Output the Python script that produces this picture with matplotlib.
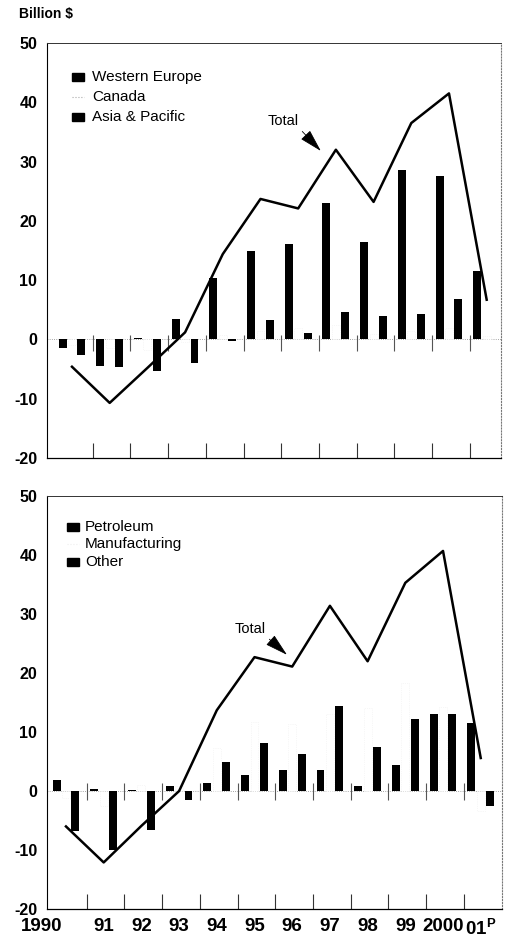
import matplotlib
matplotlib.use('Agg')
import matplotlib.pyplot as plt
from matplotlib.patches import Rectangle
import numpy as np

plt.rcParams['font.family'] = ['Liberation Sans', 'DejaVu Sans']
plt.rcParams['axes.unicode_minus'] = False
plt.rcParams['mathtext.fontset'] = 'custom'
plt.rcParams['mathtext.bf'] = 'Liberation Sans:bold'
plt.rcParams['mathtext.rm'] = 'Liberation Sans'

YEARS = ['1990', '91', '92', '93', '94', '95', '96', '97', '98', '99', '2000', r'01$^{\mathbf{P}}$']
YTICKS = [50, 40, 30, 20, 10, 0, -10, -20]

## Top panel: by region (billion $)
W_EUROPE = [-1.5, -4.5, 0.3, 3.5, 10.4, 14.9, 16.1, 23.0, 16.5, 28.6, 27.5, 11.6]
CANADA = [-1.0, -1.5, -1.8, -0.5, 0.8, 1.5, 2.0, 2.5, 1.0, 1.5, 2.0, 0.5]
ASIA_PAC = [-2.7, -4.6, -5.3, -3.9, -0.3, 3.2, 1.1, 4.6, 4.0, 4.3, 6.8, 0.0]
TOTAL_REGION = [-4.6, -10.7, -4.8, 1.2, 14.4, 23.7, 22.1, 32.0, 23.2, 36.5, 41.5, 6.7]

## Bottom panel: by industry (billion $)
PETROLEUM = [1.9, 0.4, 0.2, 0.8, 1.3, 2.7, 3.6, 3.6, 0.8, 4.5, 13.0, 11.5]
MANUFACT = [-1.2, -2.5, 1.0, 0.8, 7.3, 11.7, 11.3, 13.0, 14.0, 18.3, 14.3, -3.3]
OTHER = [-6.7, -10.0, -6.6, -1.6, 4.9, 8.1, 6.3, 14.4, 7.4, 12.2, 13.0, -2.6]
TOTAL_INDUSTRY = [-6.0, -12.1, -5.9, 0.0, 13.7, 22.7, 21.1, 31.4, 22.0, 35.3, 40.7, 5.6]

WIDTH = 0.21
OFFSET = 0.25
SOLID = dict(color='black', linewidth=0)
FAINT = dict(facecolor='white', edgecolor='#efefef', linestyle=':', linewidth=0.5)


def drawPanel(ax, series, styles, total, xlim, zt):
    x = np.arange(len(YEARS))
    ax.axhline(0, color='#888888', ls=':', lw=0.6, zorder=1)
    for k, (vals, sty) in enumerate(zip(series, styles)):
        ax.bar(x + (k - 1) * OFFSET, vals, WIDTH, zorder=2, **sty)
    ax.plot(x, total, color='black', lw=1.8, zorder=4)
    ## separators between years, bottom and across zero line
    bounds = x[:-1] + 0.55
    ax.set_xticks(bounds)
    ax.set_xticklabels([])
    ax.tick_params(axis='x', which='major', direction='in', length=11, width=0.8, color='#333333')
    ax.vlines(bounds, zt[0], zt[1], color='#555555', lw=0.8, zorder=3)
    ax.set_xlim(xlim)
    ax.set_ylim(-20, 50)
    ax.set_yticks(YTICKS)
    ax.set_yticklabels([str(v) for v in YTICKS], fontweight='bold', fontsize=11.5)
    ax.tick_params(axis='y', length=0, pad=7)
    ax.spines['left'].set_linewidth(0.8)
    ax.spines['bottom'].set_linewidth(0.9)
    ax.spines['top'].set_color('#333333')
    ax.spines['top'].set_linewidth(0.7)
    ax.spines['right'].set_color('#777777')
    ax.spines['right'].set_linestyle(':')
    ax.spines['right'].set_linewidth(0.8)


def drawLegend(ax, labels, kinds, x0, xt, ys):
    for lab, kind, y in zip(labels, kinds, ys):
        if kind == 'solid':
            ax.add_patch(Rectangle((x0, y - 0.0095), 0.026, 0.019, transform=ax.transAxes,
                                   color='black', zorder=5))
        else:
            ax.plot([x0, x0 + 0.026], [y, y], transform=ax.transAxes, color=kind, ls=':', lw=0.8)
        ax.text(xt, y, lab, transform=ax.transAxes, va='center', ha='left', fontsize=11)


fig = plt.figure(figsize=(5.09, 9.39), dpi=100)
ax1 = fig.add_axes([0.0923, 0.5122, 0.892, 0.442])
ax2 = fig.add_axes([0.0923, 0.0319, 0.894, 0.4398])

drawPanel(ax1, [W_EUROPE, CANADA, ASIA_PAC], [SOLID, FAINT, SOLID], TOTAL_REGION,
          (-0.663, 11.38), (-2.0, 0.8))
drawPanel(ax2, [PETROLEUM, MANUFACT, OTHER], [SOLID, FAINT, SOLID], TOTAL_INDUSTRY,
          (-0.504, 11.565), (-1.5, 1.4))

drawLegend(ax1, ['Western Europe', 'Canada', 'Asia & Pacific'], ['solid', '#aaaaaa', 'solid'],
           0.055, 0.099, [0.918, 0.870, 0.822])
drawLegend(ax2, ['Petroleum', 'Manufacturing', 'Other'], ['solid', '#eeeeee', 'solid'],
           0.044, 0.084, [0.925, 0.884, 0.840])

## year labels on the lower panel only (first one sits left, as in the original)
for i, lab in enumerate(YEARS):
    xpos = i - 0.64 if i == 0 else i
    ax2.text(xpos, -0.021, lab, transform=ax2.get_xaxis_transform(), ha='center', va='top',
             fontsize=13.5, fontweight='bold')

arrow = dict(arrowstyle='-|>,head_length=0.8,head_width=0.22', color='black', lw=0.6,
             mutation_scale=18, shrinkA=1, shrinkB=0, relpos=(1.0, 0.0))
ax1.annotate('Total', xy=(6.6, 31.8), xytext=(5.6, 36.9), ha='center', va='center',
             fontsize=10.5, arrowprops=arrow)
ax2.annotate('Total', xy=(5.86, 23.1), xytext=(4.88, 27.5), ha='center', va='center',
             fontsize=10.5, arrowprops=arrow)

fig.text(46 / 509, 1 - 14 / 939, 'Billion $', ha='center', va='center', fontsize=10,
         fontweight='bold')

plt.savefig('out.png', dpi=100)
